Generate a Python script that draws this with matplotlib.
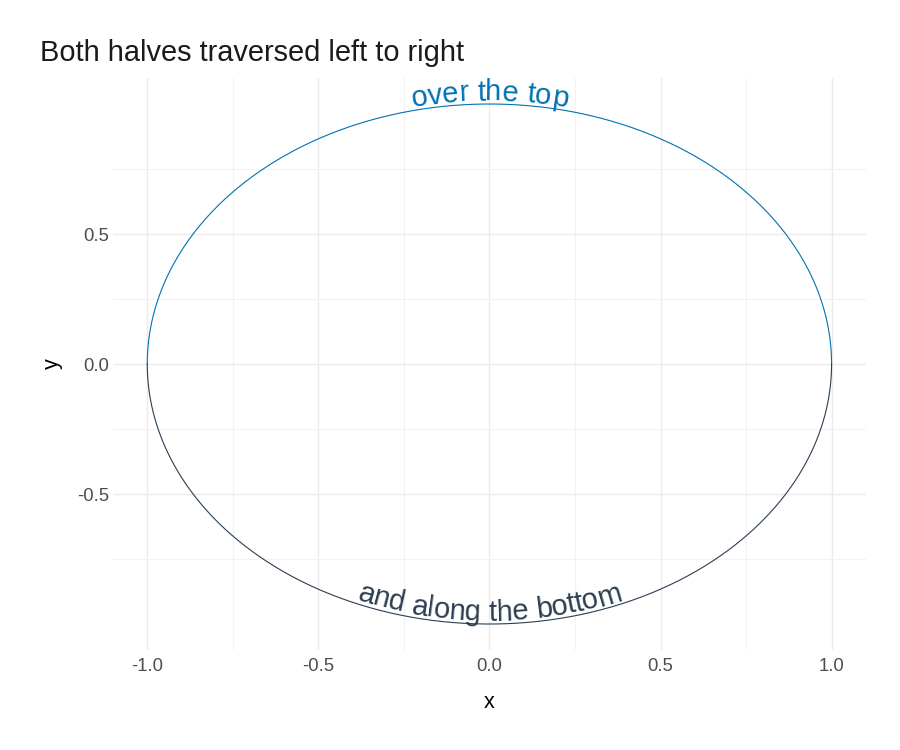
import numpy as np
import matplotlib
matplotlib.use("Agg")
import matplotlib.pyplot as plt
from matplotlib.transforms import IdentityTransform
from matplotlib.font_manager import findfont, FontProperties, get_font
from matplotlib import ft2font

plt.rcParams['font.family'] = ['Liberation Sans', 'DejaVu Sans']

# ---- data ----
title = "Both halves traversed left to right"
radius = 1.0
n_points = 400
top_label = "over the top"
bottom_label = "and along the bottom"
top_color = "#0072B2"
bottom_color = "#2C3E50"
x_ticks = [-1.0, -0.5, 0.0, 0.5, 1.0]
x_tick_labels = ["-1.0", "-0.5", "0.0", "0.5", "1.0"]
y_ticks = [-0.5, 0.0, 0.5]
y_tick_labels = ["-0.5", "0.0", "0.5"]
minor_x = [-0.75, -0.25, 0.25, 0.75]
minor_y = [-0.75, -0.25, 0.25, 0.75]

# both halves of the unit circle, each traversed from x=-1 to x=1
theta_top = np.linspace(np.pi, 0, n_points)
theta_bot = np.linspace(np.pi, 2 * np.pi, n_points)
top_x, top_y = radius * np.cos(theta_top), radius * np.sin(theta_top)
bot_x, bot_y = radius * np.cos(theta_bot), radius * np.sin(theta_bot)

DPI = 100
fig = plt.figure(figsize=(9, 7.5), dpi=DPI)
ax = fig.add_axes([0.1256, 0.1333, 0.8364, 0.7627])
ax.set_xlim(-1.1, 1.1)
ax.set_ylim(-1.1, 1.1)
for s in ax.spines.values():
    s.set_visible(False)
ax.set_xticks(x_ticks)
ax.set_xticklabels(x_tick_labels)
ax.set_yticks(y_ticks)
ax.set_yticklabels(y_tick_labels)
ax.set_xticks(minor_x, minor=True)
ax.set_yticks(minor_y, minor=True)
ax.tick_params(which='both', length=0, labelsize=13.3, labelcolor='#4D4D4D')
ax.tick_params(axis='x', pad=6)
ax.tick_params(axis='y', pad=3)
ax.grid(True, which='major', color='#EBEBEB', linewidth=1.0)
ax.grid(True, which='minor', color='#F2F2F2', linewidth=0.8)
ax.set_axisbelow(True)
ax.set_xlabel("x", fontsize=15.5, labelpad=12)
ax.set_ylabel("y", fontsize=15.5, labelpad=10)
fig.text(40 / 900, 1 - 53 / 750, title, fontsize=20.9, color='#1A1A1A', va='center', ha='left')

ax.plot(top_x, top_y, color=top_color, linewidth=0.8)
ax.plot(bot_x, bot_y, color=bottom_color, linewidth=0.8)

fig.canvas.draw()

font = get_font(findfont(FontProperties(family='Liberation Sans')))
try:
    KMODE = ft2font.Kerning.DEFAULT
except AttributeError:
    KMODE = ft2font.KERNING_DEFAULT
try:
    NOHINT = ft2font.LoadFlags.NO_HINTING
except AttributeError:
    NOHINT = ft2font.LOAD_NO_HINTING


def glyph_layout(label, size):
    """Return (ink centre offset along the pen line, total advance) in pixels."""
    font.set_size(size, DPI)
    pen = 0.0
    prev = None
    centres = []
    for ch in label:
        idx = font.get_char_index(ord(ch))
        if prev is not None:
            try:
                pen += font.get_kerning(prev, idx, KMODE) / 64.0
            except Exception:
                pass
        g = font.load_char(ord(ch), flags=NOHINT)
        centres.append(pen + g.horiBearingX / 64.0 + g.width / 128.0)
        pen += g.linearHoriAdvance / 65536.0
        prev = idx
    return centres, pen


def curved_text(xs, ys, label, color, size, offset):
    pts = ax.transData.transform(np.column_stack([xs, ys]))
    d = np.hypot(np.diff(pts[:, 0]), np.diff(pts[:, 1]))
    arc = np.concatenate([[0], np.cumsum(d)])
    centres, total = glyph_layout(label, size)
    start = arc[-1] / 2 - total / 2
    for ch, c in zip(label, centres):
        if ch == " ":
            continue
        pos = start + c
        px = np.interp(pos, arc, pts[:, 0])
        py = np.interp(pos, arc, pts[:, 1])
        h = 2.0
        dx = np.interp(pos + h, arc, pts[:, 0]) - np.interp(pos - h, arc, pts[:, 0])
        dy = np.interp(pos + h, arc, pts[:, 1]) - np.interp(pos - h, arc, pts[:, 1])
        ang = np.arctan2(dy, dx)
        nx, ny = -np.sin(ang), np.cos(ang)
        fig.text(px + nx * offset, py + ny * offset, ch, fontsize=size, color=color,
                 rotation=np.degrees(ang), rotation_mode='anchor',
                 ha='center', va='baseline', transform=IdentityTransform())


curved_text(top_x, top_y, top_label, top_color, 21, 3.5)
curved_text(bot_x, bot_y, bottom_label, bottom_color, 21, 3.5)

fig.savefig("out.png", dpi=DPI)
